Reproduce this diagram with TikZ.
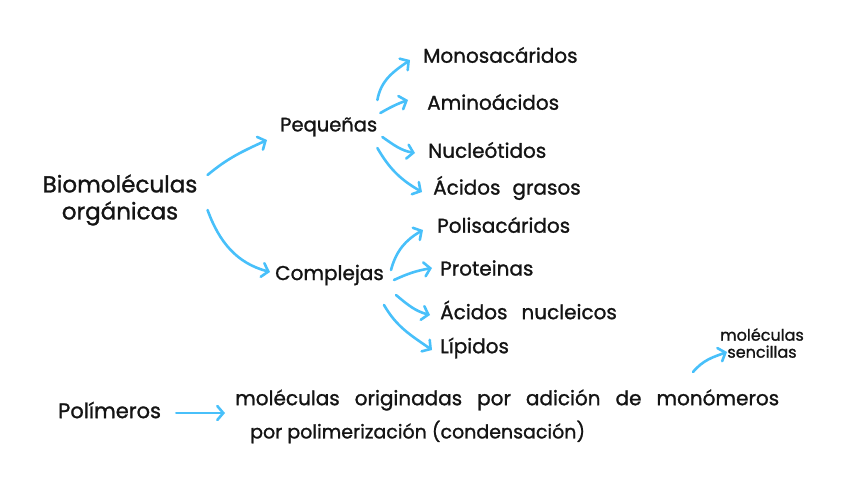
\documentclass[tikz,border=0pt]{standalone}
\usepackage{fontspec}
\setmainfont{Poppins}[FakeBold=1.2]
\usetikzlibrary{arrows.meta}
\definecolor{arrblue}{RGB}{72,192,250}
\definecolor{ink}{RGB}{20,20,20}
\newcommand{\wsp}[1]{\spaceskip=#1\relax}
\tikzset{
  lbl/.style={inner sep=0pt, anchor=west, text=ink, font=\fontsize{20}{26}\selectfont},
  arr/.style={draw=arrblue, line width=2.6pt, line cap=round, line join=round,
    -{Straight Barb[length=6pt,width=14pt,line cap=round]}}
}
\begin{document}
\begin{tikzpicture}[x=1pt,y=1pt]
\useasboundingbox (0,0) rectangle (848,-485);
% nodes
\node[lbl, anchor=center, align=center, font=\fontsize{23}{27}\selectfont] (bio) at (120,-200) {Biomoléculas\\orgánicas};
\node[lbl, font=\fontsize{19.5}{26}\selectfont] (peq) at (280,-127) {Pequeñas};
\node[lbl] (comp) at (275,-275) {Complejas};
\node[lbl] (mono) at (423,-55) {Monosacáridos};
\node[lbl] (amino) at (427,-102) {Aminoácidos};
\node[lbl] (nucl) at (428,-150) {Nucleótidos};
\node[lbl] (acg) at (433,-188) {\wsp{12pt}Ácidos grasos};
\node[lbl] (poli) at (437,-225) {Polisacáridos};
\node[lbl] (prot) at (440,-268) {Proteinas};
\node[lbl] (acn) at (440,-310) {\wsp{14pt}Ácidos nucleicos};
\node[lbl] (lip) at (440,-348) {Lípidos};
\node[lbl, font=\fontsize{21}{26}\selectfont] (polim) at (58,-410) {Polímeros};
\node[lbl] (def1) at (235,-400) {\wsp{15pt}moléculas originadas por adición de monómeros};
\node[lbl, font=\fontsize{19}{26}\selectfont] (def2) at (250,-432) {por polimerización (condensación)};
\node[lbl, anchor=center, align=center, font=\fontsize{16}{17}\selectfont] (senc) at (762,-343) {moléculas\\sencillas};
% connectors
\draw[arr] ([shift={(10,25)}]bio.east) to[out=40,in=205] ([shift={(-13,-13)}]peq.west);
\draw[arr] ([shift={(10,-10)}]bio.east) to[out=-70,in=165] ([shift={(-5,3)}]comp.west);
\draw[arr] ([shift={(0,27)}]peq.east) to[out=80,in=215] ([shift={(-13,-5)}]mono.west);
\draw[arr] ([shift={(3,14)}]peq.east) to[out=30,in=200] ([shift={(-19,2)}]amino.west);
\draw[arr] ([shift={(5,-10)}]peq.east) to[out=-35,in=170] ([shift={(-13,-3)}]nucl.west);
\draw[arr] ([shift={(0,-21)}]peq.east) to[out=-60,in=150] ([shift={(-11,-4)}]acg.west);
\draw[arr] ([shift={(7,5)}]comp.east) to[out=75,in=210] ([shift={(-14,-5)}]poli.west);
\draw[arr] ([shift={(10,-5)}]comp.east) to[out=25,in=190] ([shift={(-8,0)}]prot.west);
\draw[arr] ([shift={(12,-20)}]comp.east) to[out=-40,in=165] ([shift={(-10,-5)}]acn.west);
\draw[arr] ([shift={(0,-30)}]comp.east) to[out=-60,in=145] ([shift={(-8,-2)}]lip.west);
\draw[arr] ([shift={(15,-3)}]polim.east) -- ([shift={(-10,-13)}]def1.west);
\draw[arr] ([shift={(-69,-29)}]senc.center) to[out=50,in=200] ([shift={(-35,-9)}]senc.center);
\end{tikzpicture}
\end{document}
